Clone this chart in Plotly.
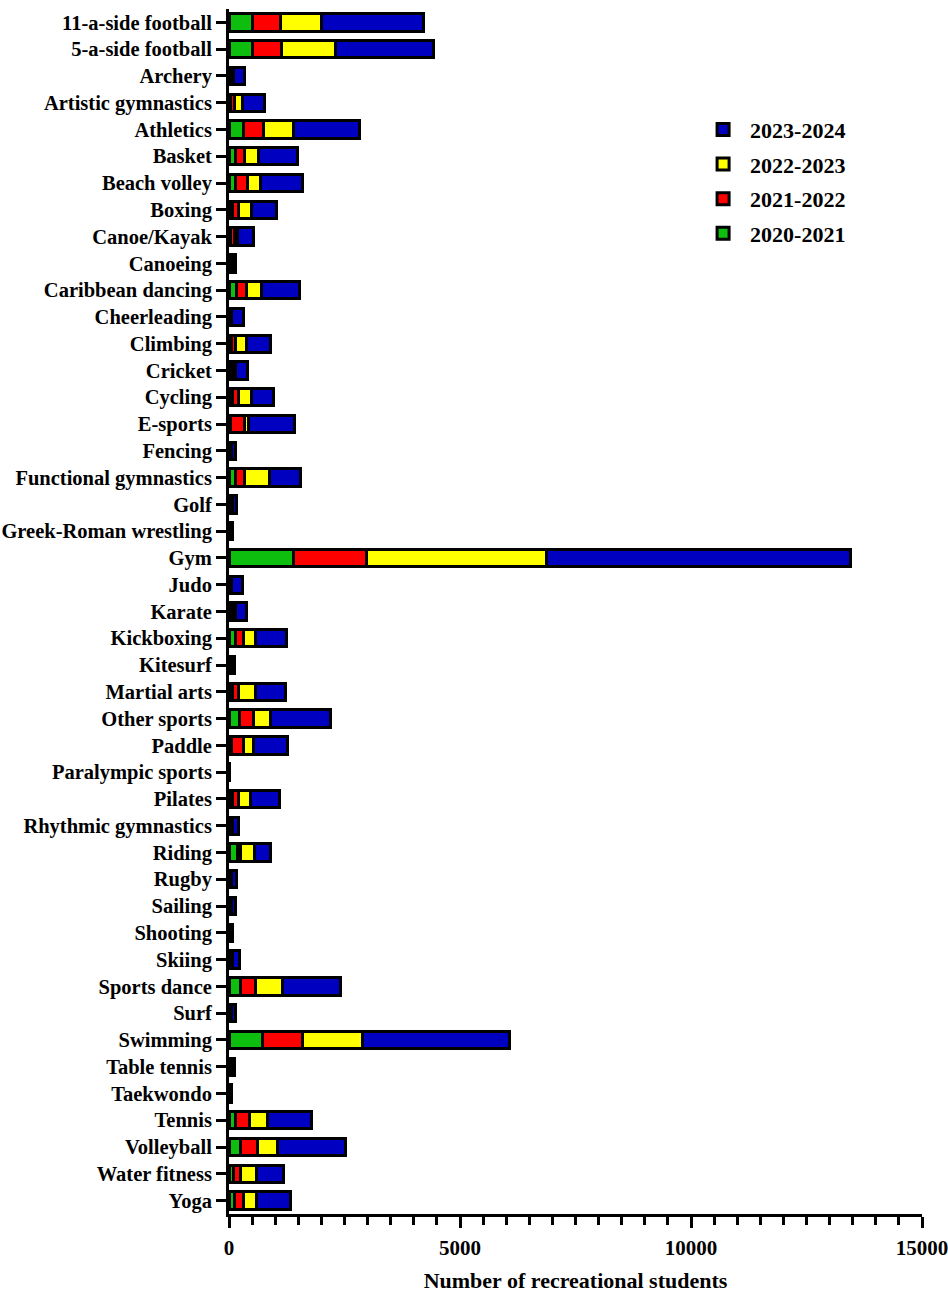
"""
Recreational students per sport, stacked by academic year
"""

import plotly.graph_objects as go

sports = [
    "11-a-side football", "5-a-side football", "Archery", "Artistic gymnastics",
    "Athletics", "Basket", "Beach volley", "Boxing", "Canoe/Kayak", "Canoeing",
    "Caribbean dancing", "Cheerleading", "Climbing", "Cricket", "Cycling",
    "E-sports", "Fencing", "Functional gymnastics", "Golf",
    "Greek-Roman wrestling", "Gym", "Judo", "Karate", "Kickboxing", "Kitesurf",
    "Martial arts", "Other sports", "Paddle", "Paralympic sports", "Pilates",
    "Rhythmic gymnastics", "Riding", "Rugby", "Sailing", "Shooting", "Skiing",
    "Sports dance", "Surf", "Swimming", "Table tennis", "Taekwondo", "Tennis",
    "Volleyball", "Water fitness", "Yoga",
]

y2020_2021 = [
    504, 504, 20, 40, 309, 145, 130, 71, 40, 10,
    166, 10, 60, 30, 65, 30, 10, 151, 20, 5,
    1391, 10, 30, 130, 10, 65, 224, 54, 0, 65,
    10, 188, 10, 10, 5, 10, 253, 10, 729, 10,
    5, 145, 253, 88, 110,
]

y2021_2022 = [
    606, 635, 30, 80, 433, 201, 266, 130, 80, 20,
    216, 20, 90, 40, 145, 316, 20, 180, 30, 10,
    1586, 20, 40, 180, 20, 136, 303, 255, 0, 145,
    20, 65, 20, 20, 15, 20, 331, 20, 865, 20,
    10, 294, 368, 165, 209,
]

y2022_2023 = [
    895, 1168, 40, 180, 664, 296, 275, 290, 70, 40,
    325, 30, 230, 60, 280, 72, 20, 541, 30, 20,
    3895, 30, 60, 253, 30, 375, 361, 231, 5, 266,
    40, 295, 30, 30, 20, 40, 577, 30, 1298, 30,
    15, 390, 425, 352, 286,
]

y2023_2024 = [
    2198, 2127, 240, 460, 1428, 835, 924, 534, 336, 80,
    815, 264, 528, 266, 483, 1003, 95, 685, 86, 36,
    6575, 228, 259, 685, 55, 655, 1319, 720, 15, 627,
    125, 354, 98, 70, 40, 161, 1254, 91, 3186, 55,
    28, 966, 1466, 573, 727,
]

series = [
    ("2020-2021", y2020_2021, "#0EBE0E"),
    ("2021-2022", y2021_2022, "#FF0000"),
    ("2022-2023", y2022_2023, "#FFFF00"),
    ("2023-2024", y2023_2024, "#0000C0"),
]

FONT = "Times New Roman, Liberation Serif, serif"

fig = go.Figure()

# =======================================
# Stacked bars, one trace per year
# newest year is listed first in the legend
# =======================================

for rank, (name, values, color) in enumerate(series):

    fig.add_trace(
        go.Bar(
            y=sports,
            x=values,
            name=name,
            orientation="h",
            legendgroup=name,
            legendrank=1000 - rank,
            marker=dict(
                color=color,
                line=dict(color="black", width=3)
            )
        )
    )

fig.update_layout(
    barmode="stack",
    bargap=0.35,
    width=948,
    height=1293,
    paper_bgcolor="white",
    plot_bgcolor="white",
    font=dict(family=FONT, color="black", size=20, weight="bold"),
    margin=dict(l=229, r=26, t=9, b=79),
    legend=dict(
        x=0.674,
        y=0.9173,
        xanchor="left",
        yanchor="top",
        traceorder="grouped",
        tracegroupgap=3,
        itemwidth=44,
        font=dict(family=FONT, size=22, color="black", weight="bold"),
        bgcolor="rgba(0,0,0,0)"
    ),
    showlegend=True
)

fig.update_xaxes(
    range=[0, 15000],
    tickvals=[0, 5000, 10000, 15000],
    tickformat="d",
    ticks="outside",
    ticklen=11,
    tickwidth=3,
    tickcolor="black",
    minor=dict(dtick=500, ticks="outside", ticklen=8, tickwidth=3, tickcolor="black"),
    ticklabelstandoff=2,
    ticklabeloverflow="allow",
    tickfont=dict(family=FONT, size=21, weight="bold"),
    showline=True,
    linecolor="black",
    linewidth=3,
    showgrid=False,
    zeroline=False,
    automargin=False,
    title=dict(
        text="Number of recreational students",
        font=dict(family=FONT, size=22, weight="bold"),
        standoff=24
    )
)

fig.update_yaxes(
    autorange="reversed",
    ticks="outside",
    ticklen=10,
    tickwidth=3,
    tickcolor="black",
    tickfont=dict(family=FONT, size=20.5, weight="bold"),
    showline=True,
    linecolor="black",
    linewidth=3,
    showgrid=False,
    automargin=False
)

# drop the default 8px body margin so the figure sits flush in the window
fig.write_html(
    "out.html",
    config={"displayModeBar": False},
    post_script="document.body.style.margin = '0';"
)
